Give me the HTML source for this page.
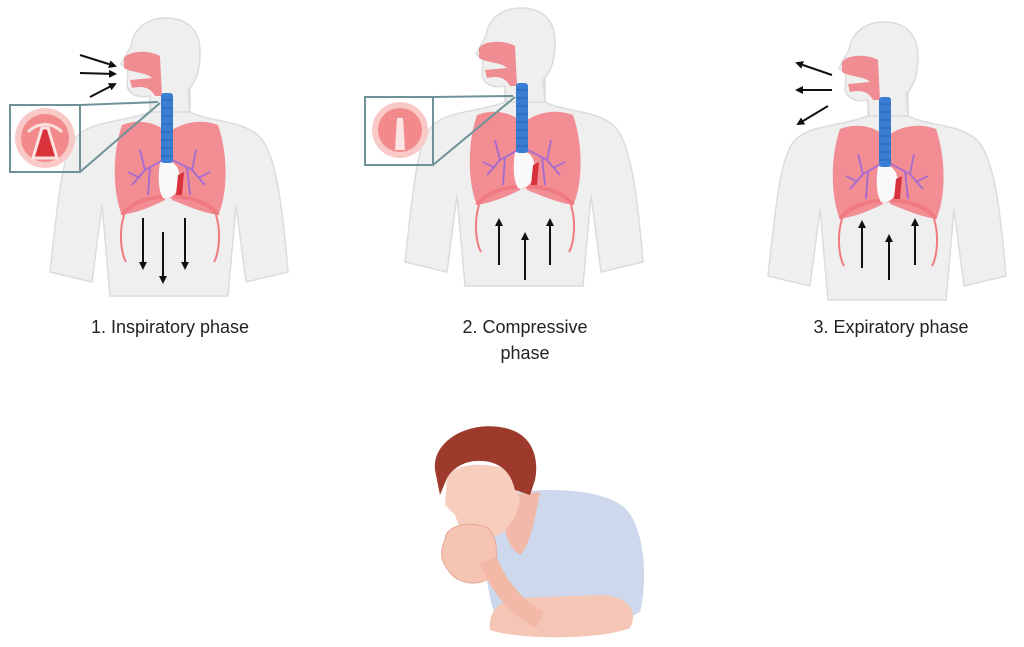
<!DOCTYPE html>
<html><head><meta charset="utf-8"><style>
body{margin:0;background:#fff;width:1024px;height:647px;overflow:hidden;font-family:"Liberation Sans",sans-serif}
svg{position:absolute;left:0;top:0}
</style></head><body>
<svg width="1024" height="647" viewBox="0 0 1024 647">
<defs>
<marker id="ah" markerWidth="8" markerHeight="8" refX="6" refY="4" orient="auto" markerUnits="userSpaceOnUse"><path d="M0,0 L8,4 L0,8 Z" fill="#111"/></marker>
<g id="body">
  <path d="M150 85 L150 112 C125 122 95 120 78 135 C62 150 58 200 50 272 L92 282 L102 205 L110 296 L228 296 L236 205 L246 282 L288 272 C282 200 275 150 258 135 C240 120 210 122 190 112 L190 88 Z" fill="#efefef" stroke="#dcdcdc" stroke-width="1.5"/>
  <path d="M200 52 C200 28 185 18 166 18 C146 18 133 30 131 46 L121 64 L128 70 L127 86 C130 96 140 98 150 96 L151 112 L190 112 L188 90 C198 80 200 66 200 52 Z" fill="#efefef" stroke="#dcdcdc" stroke-width="1.5"/>
  <path d="M124 58 C130 50 150 50 160 56 L162 96 L155 96 C150 86 140 86 132 88 L130 80 L152 78 C146 72 132 73 124 68 Z" fill="#f08d93"/>
  <path d="M122 125 C110 160 115 200 122 215 C140 212 155 205 165 200 L165 130 C150 120 135 120 122 125 Z" fill="#f28d94"/>
  <path d="M218 125 C230 160 226 200 218 215 C200 212 185 205 172 200 L172 130 C188 120 205 120 218 125 Z" fill="#f28d94"/>
  <path d="M122 215 C140 190 200 190 218 215" fill="none" stroke="#f07a82" stroke-width="4"/>
  <path d="M124 215 C118 235 122 255 126 262 M216 215 C222 235 218 255 214 262" fill="none" stroke="#f07a82" stroke-width="2"/>
  <path d="M160 162 C158 175 158 190 163 198 C170 200 178 195 180 180 C180 170 176 163 170 162 Z" fill="#fafafa"/>
  <path d="M178 175 L184 172 L182 195 L176 195 Z" fill="#d8323c"/>
  <g stroke="#a56bd0" stroke-width="1.8" fill="none">
    <path d="M163 160 L145 170 L132 185 M145 170 L140 150 M150 167 L148 195 M140 178 L128 172"/>
    <path d="M173 160 L192 170 L205 185 M192 170 L196 150 M187 167 L190 195 M198 178 L210 172"/>
  </g>
  <rect x="161" y="93" width="12" height="70" rx="3" fill="#3a7ed4"/>
  <g stroke="#2b62ab" stroke-width="1"><path d="M161 100h12M161 108h12M161 116h12M161 124h12M161 132h12M161 140h12M161 148h12M161 156h12"/></g>
</g>
<g id="inset">
  <circle cx="45" cy="138" r="30" fill="#f9c9c7"/>
  <circle cx="45" cy="138" r="24" fill="#f28a8c"/>
  <path d="M28 132 C38 122 52 122 62 132" fill="none" stroke="#fbe0de" stroke-width="3"/>
  <path d="M42 128 L33 158 L57 158 L48 128 Z" fill="#d8333b" stroke="#fde4e2" stroke-width="3"/>
</g>
</defs>

<use href="#body"/>
<use href="#body" transform="translate(355,-10)"/>
<use href="#body" transform="translate(718,4)"/>

<use href="#inset"/>
<rect x="10" y="105" width="70" height="67" fill="none" stroke="#6f9299" stroke-width="2"/>
<path d="M80 105 L158 102 M80 172 L160 103" stroke="#6f9299" stroke-width="2" fill="none"/>
<g transform="translate(355,-8)">
  <circle cx="45" cy="138" r="28" fill="#f9c9c7"/>
  <circle cx="45" cy="138" r="22" fill="#f28a8c"/>
  <path d="M42 126 L40 158 L50 158 L48 126 Z" fill="#fde4e2"/>
</g>
<rect x="365" y="97" width="68" height="68" fill="none" stroke="#6f9299" stroke-width="2"/>
<path d="M433 97 L513 96 M433 165 L515 97" stroke="#6f9299" stroke-width="2" fill="none"/>

<g stroke="#111" stroke-width="2" marker-end="url(#ah)">
  <line x1="80" y1="55" x2="115" y2="66"/>
  <line x1="80" y1="73" x2="115" y2="74"/>
  <line x1="90" y1="97" x2="115" y2="84"/>
  <line x1="143" y1="218" x2="143" y2="268"/>
  <line x1="163" y1="232" x2="163" y2="282"/>
  <line x1="185" y1="218" x2="185" y2="268"/>
  <line x1="499" y1="265" x2="499" y2="220"/>
  <line x1="525" y1="280" x2="525" y2="234"/>
  <line x1="550" y1="265" x2="550" y2="220"/>
  <line x1="862" y1="268" x2="862" y2="222"/>
  <line x1="889" y1="280" x2="889" y2="236"/>
  <line x1="915" y1="265" x2="915" y2="220"/>
  <line x1="832" y1="75" x2="797" y2="63"/>
  <line x1="832" y1="90" x2="797" y2="90"/>
  <line x1="828" y1="106" x2="798" y2="124"/>
</g>

<g font-size="18" fill="#222" text-anchor="middle" font-family="Liberation Sans, sans-serif">
  <text x="170" y="333">1. Inspiratory phase</text>
  <text x="525" y="333">2. Compressive</text>
  <text x="525" y="359">phase</text>
  <text x="891" y="333">3. Expiratory phase</text>
</g>

<g>
  <path d="M488 498 C530 486 600 486 625 508 C645 528 648 580 640 612 L615 625 L500 630 C488 600 480 560 488 498 Z" fill="#cdd8ec"/>
  <path d="M490 630 C488 610 500 600 520 598 L600 595 C625 595 640 610 630 628 C600 640 520 640 490 630 Z" fill="#f5c6b5"/>
  <path d="M505 495 L540 492 C535 520 530 545 520 555 C505 545 500 520 505 495 Z" fill="#f2b9a8"/>
  <path d="M447 478 C452 465 480 460 510 470 L520 500 C515 525 500 540 480 540 C465 538 460 530 455 515 L445 505 Z" fill="#f7cdbd"/>
  <path d="M435 470 C432 440 470 420 505 428 C530 433 540 455 535 480 L530 495 L515 490 C510 470 500 465 490 462 C470 458 455 465 447 478 L440 495 Z" fill="#9e3a2c"/>
  <path d="M445 540 C445 525 470 520 488 528 C500 540 498 565 490 578 C475 588 455 582 448 570 C440 560 440 550 445 540 Z" fill="#f6c4b2" stroke="#e6a896" stroke-width="1"/>
  <path d="M488 560 C500 590 520 610 540 620" fill="none" stroke="#f3b8a6" stroke-width="18"/>
</g>
</svg>
</body></html>
